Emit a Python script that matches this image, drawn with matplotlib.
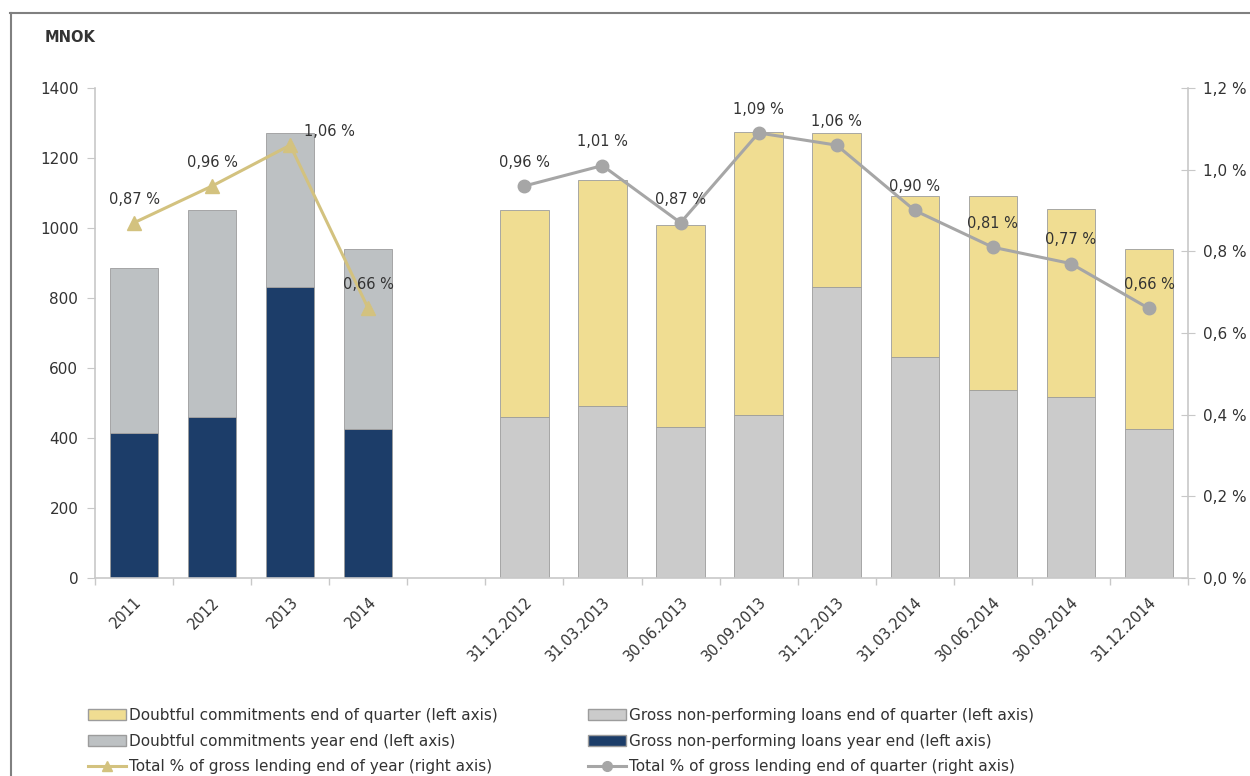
import numpy as np
import matplotlib
matplotlib.use('Agg')
import matplotlib.pyplot as plt
from matplotlib.lines import Line2D
from matplotlib.patches import Patch
from matplotlib.ticker import FuncFormatter

# year-end figures (MNOK)
years = ['2011', '2012', '2013', '2014']
npl_year = [415, 460, 830, 425]
doubtful_year = [470, 590, 440, 515]
pct_year = [0.87, 0.96, 1.06, 0.66]

# quarter-end figures (MNOK)
quarters = ['31.12.2012', '31.03.2013', '30.06.2013', '30.09.2013', '31.12.2013',
            '31.03.2014', '30.06.2014', '30.09.2014', '31.12.2014']
npl_q = [460, 490, 430, 467, 830, 630, 538, 518, 427]
doubtful_q = [590, 648, 578, 808, 440, 462, 552, 537, 513]
pct_q = [0.96, 1.01, 0.87, 1.09, 1.06, 0.90, 0.81, 0.77, 0.66]

c_yellow = '#f0dd92'
c_lgray = '#cbcbcb'
c_bgray = '#bdc1c3'
c_navy = '#1c3d69'
c_gold = '#d3c27f'
c_gline = '#a6a6a6'
c_edge = '#9c9c9c'
c_axis = '#c8c8c8'
c_text = '#333333'

plt.rcParams['font.family'] = 'DejaVu Sans'

fig = plt.figure(figsize=(12.5, 7.76), dpi=100)
ax = fig.add_axes([0.076, 0.2552, 0.8744, 0.6314])

# positions: years, one empty slot, then quarters
xy = np.arange(len(years))
xq = np.arange(len(quarters)) + len(years) + 1
n_slots = len(years) + 1 + len(quarters)
w = 0.62

ax.bar(xy, npl_year, w, color=c_navy, edgecolor=c_edge, linewidth=0.6, zorder=2)
ax.bar(xy, doubtful_year, w, bottom=npl_year, color=c_bgray, edgecolor=c_edge,
       linewidth=0.6, zorder=2)
ax.bar(xq, npl_q, w, color=c_lgray, edgecolor=c_edge, linewidth=0.6, zorder=2)
ax.bar(xq, doubtful_q, w, bottom=npl_q, color=c_yellow, edgecolor=c_edge,
       linewidth=0.6, zorder=2)

ax.set_xlim(-0.5, n_slots - 0.5)
ax.set_ylim(0, 1400)
ax.set_yticks(np.arange(0, 1401, 200))

ax.set_xticks(list(xy) + list(xq))
ax.set_xticklabels(years + quarters, rotation=45, ha='right',
                   rotation_mode='anchor')
ax.tick_params(axis='x', which='major', length=0, pad=12, labelsize=10.5,
               labelcolor=c_text)
ax.set_xticks(np.arange(-0.5, n_slots), minor=True)
ax.tick_params(axis='x', which='minor', length=5, color=c_axis, width=1)
ax.tick_params(axis='y', length=6, color=c_axis, labelsize=11,
               labelcolor=c_text, pad=6)

for s in ['top', 'right']:
    ax.spines[s].set_visible(False)
for s in ['left', 'bottom']:
    ax.spines[s].set_color(c_axis)
    ax.spines[s].set_linewidth(1.2)

ax2 = ax.twinx()
ax2.set_ylim(0, 1.2)
ax2.set_yticks(np.arange(0, 1.21, 0.2))
ax2.yaxis.set_major_formatter(
    FuncFormatter(lambda v, p: '{:.1f} %'.format(v).replace('.', ',')))
ax2.tick_params(axis='y', direction='inout', length=10, color=c_axis,
                labelsize=11, labelcolor=c_text, pad=6)
for s in ['top', 'left', 'bottom']:
    ax2.spines[s].set_visible(False)
ax2.spines['right'].set_color(c_axis)
ax2.spines['right'].set_linewidth(1.2)

ax2.plot(xy, pct_year, color=c_gold, lw=2.2, marker='^', ms=10, zorder=3)
ax2.plot(xq, pct_q, color=c_gline, lw=2.2, marker='o', ms=9, zorder=3)

def pct_label(v):
    return '{:.2f} %'.format(v).replace('.', ',')

for i, (x, v) in enumerate(zip(xy, pct_year)):
    off = (28, 10) if i == 2 else (0, 17)
    ax2.annotate(pct_label(v), (x, v), xytext=off, textcoords='offset points',
                 ha='center', va='center', fontsize=10.5, color=c_text)
for x, v in zip(xq, pct_q):
    ax2.annotate(pct_label(v), (x, v), xytext=(0, 17), textcoords='offset points',
                 ha='center', va='center', fontsize=10.5, color=c_text)

fig.text(45 / 1250, 1 - 38 / 776, 'MNOK', fontsize=10.5, fontweight='bold',
         color=c_text, va='center')

# frame around the chart
fig.add_artist(Line2D([10 / 1250, 1.0], [1 - 12.5 / 776] * 2, color='#808080',
                      lw=1.5, transform=fig.transFigure))
fig.add_artist(Line2D([11 / 1250] * 2, [0, 1 - 12.5 / 776], color='#808080',
                      lw=1.5, transform=fig.transFigure))

h_left = [Patch(facecolor=c_yellow, edgecolor=c_edge),
          Patch(facecolor=c_bgray, edgecolor=c_edge),
          Line2D([], [], color=c_gold, lw=2.2, marker='^', ms=7)]
l_left = ['Doubtful commitments end of quarter (left axis)',
          'Doubtful commitments year end (left axis)',
          'Total % of gross lending end of year (right axis)']
h_right = [Patch(facecolor=c_lgray, edgecolor=c_edge),
           Patch(facecolor=c_navy, edgecolor=c_edge),
           Line2D([], [], color=c_gline, lw=2.2, marker='o', ms=7)]
l_right = ['Gross non-performing loans end of quarter (left axis)',
           'Gross non-performing loans year end (left axis)',
           'Total % of gross lending end of quarter (right axis)']

kw = dict(loc='upper left', frameon=False, fontsize=11, handlelength=2.5,
          handleheight=0.7, handletextpad=0.2, labelspacing=0.7, borderpad=0,
          borderaxespad=0, labelcolor=c_text)
fig.legend(h_left, l_left, bbox_to_anchor=(88 / 1250, 1 - 708 / 776), **kw)
fig.legend(h_right, l_right, bbox_to_anchor=(588 / 1250, 1 - 708 / 776), **kw)

fig.savefig('out.png', dpi=100)
